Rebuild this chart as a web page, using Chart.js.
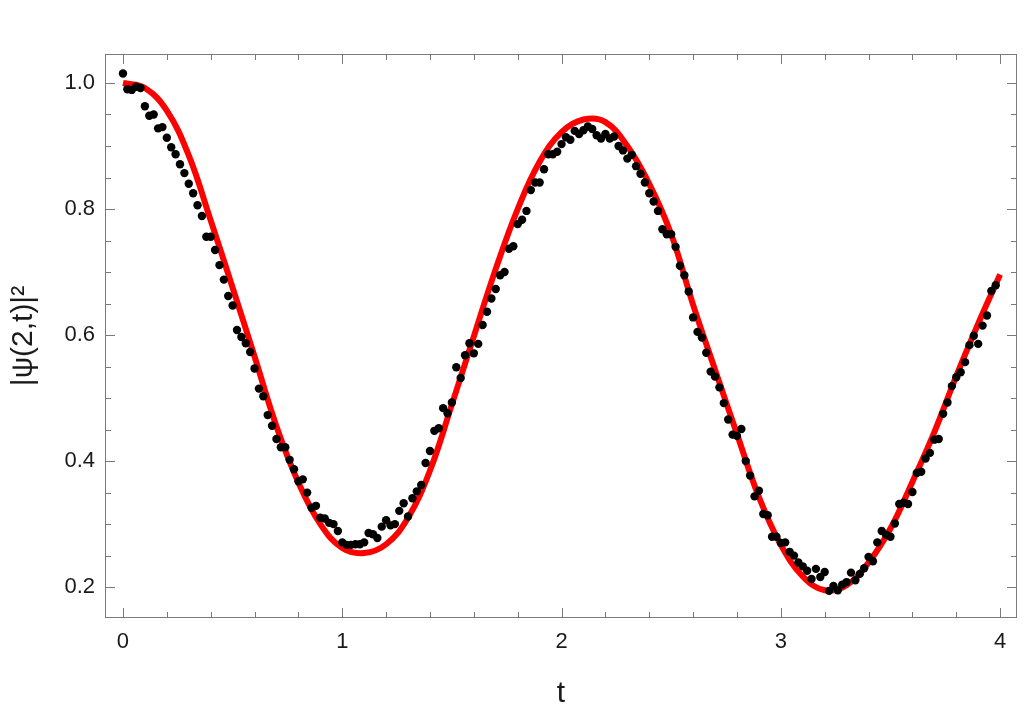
<!DOCTYPE html>
<html><head><meta charset="utf-8">
<script src="https://cdn.jsdelivr.net/npm/chart.js@4/dist/chart.umd.min.js"></script>
<style>html,body{margin:0;padding:0;background:#fff;}canvas{display:block;}</style>
</head><body>
<canvas id="c" width="1026" height="718"></canvas>
<script>
// ---- data ----
const xTickLabels = [0, 1, 2, 3, 4];
const yTickLabels = [0.2, 0.4, 0.6, 0.8, 1.0];

// red curve, sampled every 0.1 in t (t = 0 ... 4.0)
const curveStep = 0.1;
const curveValues = [
  1.000, 0.992, 0.956, 0.885, 0.782, 0.675, 0.566, 0.455, 0.366, 0.300,
  0.262, 0.254, 0.268, 0.310, 0.385, 0.490, 0.598, 0.705, 0.800, 0.875,
  0.922, 0.942, 0.938, 0.900, 0.840, 0.760, 0.648, 0.545, 0.443, 0.343,
  0.267, 0.217, 0.195, 0.203, 0.239, 0.293, 0.367, 0.446, 0.535, 0.618,
  0.696
];

// black measured points, every 0.02 in t (t = 0 ... 3.98)
const dotStep = 0.02;
const dotValues = [
  1.015, 0.990, 0.989, 0.994, 0.992, 0.963, 0.948, 0.950, 0.928, 0.930,
  0.913, 0.898, 0.887, 0.871, 0.857, 0.840, 0.825, 0.806, 0.789, 0.756,
  0.756, 0.735, 0.711, 0.688, 0.662, 0.647, 0.608, 0.597, 0.587, 0.573,
  0.547, 0.515, 0.503, 0.473, 0.456, 0.435, 0.422, 0.422, 0.402, 0.387,
  0.368, 0.371, 0.350, 0.326, 0.329, 0.310, 0.309, 0.302, 0.300, 0.289,
  0.271, 0.267, 0.267, 0.268, 0.268, 0.271, 0.286, 0.284, 0.278, 0.296,
  0.306, 0.298, 0.300, 0.321, 0.333, 0.312, 0.341, 0.352, 0.362, 0.397,
  0.416, 0.448, 0.452, 0.484, 0.476, 0.493, 0.549, 0.532, 0.568, 0.587,
  0.571, 0.586, 0.616, 0.637, 0.658, 0.673, 0.695, 0.700, 0.737, 0.741,
  0.776, 0.783, 0.797, 0.830, 0.842, 0.842, 0.863, 0.887, 0.887, 0.891,
  0.903, 0.914, 0.910, 0.924, 0.919, 0.925, 0.931, 0.927, 0.917, 0.912,
  0.919, 0.912, 0.915, 0.900, 0.893, 0.880, 0.886, 0.868, 0.856, 0.842,
  0.825, 0.812, 0.797, 0.768, 0.760, 0.760, 0.740, 0.710, 0.695, 0.669,
  0.628, 0.605, 0.596, 0.572, 0.542, 0.534, 0.517, 0.492, 0.466, 0.442,
  0.440, 0.451, 0.400, 0.377, 0.344, 0.353, 0.316, 0.314, 0.280, 0.280,
  0.270, 0.271, 0.256, 0.250, 0.239, 0.233, 0.226, 0.213, 0.229, 0.216,
  0.224, 0.194, 0.202, 0.195, 0.204, 0.208, 0.223, 0.211, 0.221, 0.230,
  0.248, 0.241, 0.271, 0.289, 0.283, 0.280, 0.301, 0.332, 0.334, 0.332,
  0.351, 0.381, 0.383, 0.404, 0.413, 0.434, 0.435, 0.475, 0.493, 0.519,
  0.533, 0.541, 0.557, 0.584, 0.599, 0.586, 0.615, 0.631, 0.670, 0.679
];

const xMinorStep = 0.2;
const yMinorStep = 0.05;

// ---- build chart ----
const round = v => Math.round(v * 1000) / 1000;
const curvePoints = curveValues.map((v, i) => ({ x: round(i * curveStep), y: v }));
const dotPoints = dotValues.map((v, i) => ({ x: round(i * dotStep), y: v }));

const X_MIN = -0.082, X_MAX = 4.077, Y_MIN = 0.151, Y_MAX = 1.046;
const FONT = "'Liberation Sans', Arial, sans-serif";

const framePlugin = {
  id: 'frame',
  beforeDatasetsDraw(chart) {
    const { ctx, chartArea: a, scales: { x, y } } = chart;
    ctx.save();
    ctx.strokeStyle = '#7a7a7a';
    ctx.lineWidth = 1;
    ctx.strokeRect(a.left + 0.5, a.top + 0.5, a.right - a.left - 1, a.bottom - a.top - 1);
    ctx.beginPath();
    for (let k = Math.ceil(X_MIN / xMinorStep); k * xMinorStep <= X_MAX; k++) {
      const v = round(k * xMinorStep);
      const major = xTickLabels.some(t => Math.abs(t - v) < 1e-6);
      const len = major ? 10 : 6;
      const px = Math.round(x.getPixelForValue(v)) + 0.5;
      ctx.moveTo(px, a.bottom); ctx.lineTo(px, a.bottom - len);
      ctx.moveTo(px, a.top); ctx.lineTo(px, a.top + len);
    }
    for (let k = Math.ceil(Y_MIN / yMinorStep); k * yMinorStep <= Y_MAX; k++) {
      const v = round(k * yMinorStep);
      const major = yTickLabels.some(t => Math.abs(t - v) < 1e-6);
      const len = major ? 10 : 6;
      const py = Math.round(y.getPixelForValue(v)) + 0.5;
      ctx.moveTo(a.left, py); ctx.lineTo(a.left + len, py);
      ctx.moveTo(a.right, py); ctx.lineTo(a.right - len, py);
    }
    ctx.stroke();
    ctx.restore();
  }
};

new Chart(document.getElementById('c'), {
  type: 'scatter',
  data: {
    datasets: [
      {
        label: 'measured',
        data: dotPoints,
        backgroundColor: '#000000',
        borderColor: '#000000',
        borderWidth: 0,
        pointRadius: 4.2,
        pointHoverRadius: 4.2,
        order: 0
      },
      {
        label: 'theory',
        data: curvePoints,
        showLine: true,
        borderColor: '#ff0000',
        backgroundColor: '#ff0000',
        borderWidth: 6,
        pointRadius: 0,
        pointHoverRadius: 0,
        tension: 0.4,
        fill: false,
        order: 1
      }
    ]
  },
  options: {
    responsive: false,
    animation: false,
    devicePixelRatio: 1,
    layout: { padding: { top: 54, right: 9, left: 0, bottom: 0 } },
    plugins: { legend: { display: false }, tooltip: { enabled: false } },
    scales: {
      x: {
        type: 'linear',
        min: X_MIN, max: X_MAX,
        grid: { display: false, drawTicks: false },
        border: { display: false },
        afterBuildTicks: s => { s.ticks = xTickLabels.map(v => ({ value: v })); },
        afterFit: s => { s.height = 100; },
        ticks: {
          padding: 11, color: '#1a1a1a', maxRotation: 0,
          font: { family: FONT, size: 22 },
          callback: v => String(v)
        },
        title: {
          display: true, text: 't', color: '#1a1a1a',
          font: { family: FONT, size: 30 },
          padding: { top: 0, bottom: 6 }
        }
      },
      y: {
        type: 'linear',
        min: Y_MIN, max: Y_MAX,
        grid: { display: false, drawTicks: false },
        border: { display: false },
        afterBuildTicks: s => { s.ticks = yTickLabels.map(v => ({ value: v })); },
        afterFit: s => { s.width = 105; },
        ticks: {
          padding: 10, color: '#1a1a1a',
          font: { family: FONT, size: 22 },
          callback: v => Number(v).toFixed(1)
        },
        title: {
          display: true, text: '|ψ(2,t)|²', color: '#1a1a1a',
          font: { family: FONT, size: 30 },
          padding: { top: 6, bottom: 0 }
        }
      }
    }
  },
  plugins: [framePlugin]
});
</script>
</body></html>
